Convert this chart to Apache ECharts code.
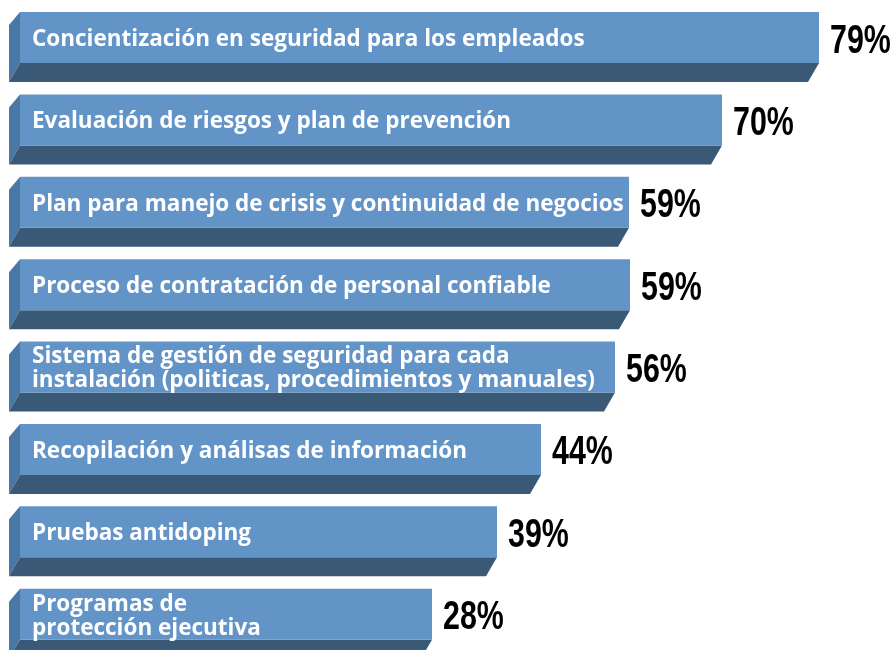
<!DOCTYPE html>
<html>
<head>
<meta charset="utf-8">
<script src="https://cdn.jsdelivr.net/npm/echarts@6/dist/echarts.min.js"></script>
<style>
  html, body { margin: 0; padding: 0; background: #fff; }
  #chart { width: 896px; height: 650px; }
</style>
</head>
<body>
<div id="chart"></div>
<script>
// categorias (de arriba a abajo)
const categories = [
  'Concientización en seguridad para los empleados',
  'Evaluación de riesgos y plan de prevención',
  'Plan para manejo de crisis y continuidad de negocios',
  'Proceso de contratación de personal confiable',
  'Sistema de gestión de seguridad para cada\ninstalación (politicas, procedimientos y manuales)',
  'Recopilación y análisas de información',
  'Pruebas antidoping',
  'Programas de\nprotección ejecutiva'
]
// porcentaje que se muestra a la derecha
const percentValues = [79, 70, 59, 59, 56, 44, 39, 28]
// largo dibujado de cada barra (en el original no es proporcional al porcentaje)
const barLengths = [799, 702, 609, 610, 595, 521, 477, 412]

const chart = echarts.init(document.getElementById('chart'))

const FACE_H = 51   // alto de la cara frontal
const DEPTH_Y = 19  // bisel inferior
const DEPTH_X = 11  // desplazamiento hacia la izquierda

const renderItem = (params, api) => {
  const idx = api.value(1)
  const len = api.value(0)
  const start = api.coord([0, idx])
  const end = api.coord([len, idx])
  const band = api.size([0, 1])[1]
  const top = start[1] - band / 2
  const x0 = start[0]
  const x1 = end[0]
  return {
    type: 'group',
    children: [
      {
        type: 'polygon',
        shape: { points: [[x0, top], [x0, top + FACE_H], [x0 - DEPTH_X, top + FACE_H + DEPTH_Y], [x0 - DEPTH_X, top + 13]] },
        style: { fill: '#4a78a6' }
      },
      {
        type: 'polygon',
        shape: { points: [[x0, top + FACE_H], [x1, top + FACE_H], [x1 - DEPTH_X, top + FACE_H + DEPTH_Y], [x0 - DEPTH_X, top + FACE_H + DEPTH_Y]] },
        style: { fill: '#3a5977' }
      },
      {
        type: 'rect',
        shape: { x: x0, y: top, width: x1 - x0, height: FACE_H },
        style: { fill: '#6394c8' }
      },
      {
        type: 'text',
        style: {
          x: x0 + 12,
          y: top + FACE_H / 2 + 2,
          text: categories[idx],
          fill: '#ffffff',
          font: 'bold 22.5px "Open Sans", sans-serif',
          lineHeight: 24,
          verticalAlign: 'middle',
          align: 'left'
        }
      },
      {
        // cifra condensada tipo Impact
        type: 'text',
        x: x1 + 11,
        y: top + FACE_H / 2 + 4,
        scaleX: 0.76,
        style: {
          x: 0,
          y: 0,
          text: api.value(2) + '%',
          fill: '#000000',
          font: 'bold 40px "Liberation Sans", Arial, sans-serif',
          verticalAlign: 'middle',
          align: 'left'
        }
      }
    ]
  }
}

const option = {
  animation: false,
  grid: { left: 20, top: 12, width: 876, height: 659, outerBoundsMode: 'none', containLabel: false },
  xAxis: { type: 'value', min: 0, max: 876, show: false },
  yAxis: { type: 'category', data: categories, inverse: true, show: false },
  series: [
    {
      type: 'custom',
      renderItem: renderItem,
      encode: { x: 0, y: 1 },
      clip: false,
      data: barLengths.map((len, i) => [len, i, percentValues[i]])
    }
  ]
}
chart.setOption(option)
</script>
</body>
</html>
